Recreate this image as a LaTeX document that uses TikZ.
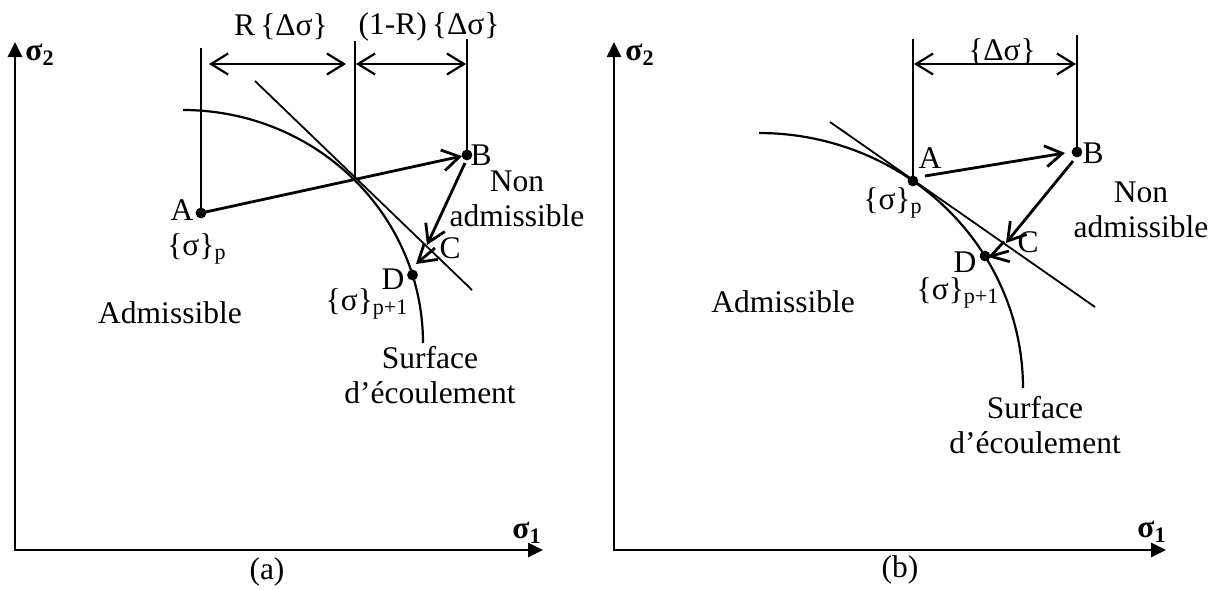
\documentclass[tikz,border=0pt]{standalone}
\usepackage{fontspec}
\setmainfont{Liberation Serif}
\usetikzlibrary{arrows.meta}
\begin{document}
\begin{tikzpicture}[x=0.5pt,y=-0.5pt,
  font=\fontsize{15.75}{17.5}\selectfont,
  every node/.style={inner sep=0pt, outer sep=0pt},
  axisline/.style={line width=1.3pt, {Triangle[length=7.5pt,width=7pt]}-{Triangle[length=7.5pt,width=7pt]}},
  mainarrow/.style={line width=1.4pt, -{Straight Barb[length=8.5pt,width=10.5pt]}},
  dimarrow/.style={line width=1.1pt, {Straight Barb[length=8.5pt,width=10.5pt]}-{Straight Barb[length=8.5pt,width=10.5pt]}},
  guide/.style={line width=0.9pt},
  surf/.style={line width=1.1pt},
  dotmark/.style={fill=black},
  twoline/.style={align=center, font=\fontsize{15.75}{17.5}\selectfont}]
\useasboundingbox (0,0) rectangle (1220,589);

% ---------------- panel (a) ----------------
\coordinate (O1) at (15,550);
\coordinate (Y1) at (15,42);
\coordinate (X1) at (543,550);
\coordinate (A1) at (201,213);
\coordinate (B1) at (467,155);
\coordinate (M1) at (355,178);
\coordinate (A1t) at (201,48);
\coordinate (M1t) at (355,41);
\coordinate (B1t) at (467,39);
\coordinate (dA1) at (209,64);
\coordinate (dM1l) at (346,64);
\coordinate (dM1r) at (356,64);
\coordinate (dB1) at (466,64);
\coordinate (T1a) at (255,81);
\coordinate (T1b) at (472,290);
\coordinate (C1) at (427,245);
\coordinate (D1) at (412.5,275);
\coordinate (B1s) at (465,163);
\coordinate (C1s) at (435,248);
\coordinate (D1e) at (416,264);

\draw[axisline] (Y1) -- (O1) -- (X1);
\draw[guide] (A1) -- (A1t);
\draw[guide] (M1) -- (M1t);
\draw[guide] (B1) -- (B1t);
\draw[dimarrow] (dA1) -- (dM1l);
\draw[dimarrow] (dM1r) -- (dB1);
\draw[surf] plot[domain=-90:0, samples=80, smooth] ({183+240*cos(\x)}, {343+233*sin(\x)});
\draw[guide] (T1a) -- (T1b);
\draw[mainarrow, shorten >=2.5pt] (A1) -- (B1);
\draw[mainarrow] (B1s) -- (C1);
\draw[mainarrow] (C1s) -- (D1e);
\fill[dotmark] (A1) circle (2.7pt);
\fill[dotmark] (B1) circle (2.7pt);
\fill[dotmark] (D1) circle (2.7pt);

\node (lblR1) at (281,27) {R\,\{Δσ\}};
\node (lblRR1) at (429,27) {(1-R)\,\{Δσ\}};
\node (s2a) at (40,55) {\textbf{σ\textsubscript{2}}};
\node (s1a) at (527,533) {\textbf{σ\textsubscript{1}}};
\node (lA1) at (182,210) {A};
\node (sp1) at (197,249) {\{σ\}\textsubscript{p}};
\node (lB1) at (481,155) {B};
\node[twoline] (na1) at (517,199) {Non\\admissible};
\node (lC1) at (450,248) {C};
\node (lD1) at (393,279) {D};
\node (sq1) at (367,304) {\{σ\}\textsubscript{p+1}};
\node (ad1) at (170,313) {Admissible};
\node[twoline] (sf1) at (430,375) {Surface\\d’écoulement};
\node (capa) at (267,572) {(a)};

% ---------------- panel (b) ----------------
\coordinate (O2) at (614,550);
\coordinate (Y2) at (614,42);
\coordinate (X2) at (1166,550);
\coordinate (A2) at (913,181);
\coordinate (B2) at (1077,152);
\coordinate (A2t) at (913,39);
\coordinate (B2t) at (1077,35);
\coordinate (dA2) at (914,64);
\coordinate (dB2) at (1076,64);
\coordinate (T2a) at (830,122);
\coordinate (T2b) at (1095,307);
\coordinate (C2) at (1006,243);
\coordinate (D2) at (985,256);
\coordinate (A2s) at (925,176);
\coordinate (B2e) at (1065,153);
\coordinate (B2s) at (1073,161);
\coordinate (C2s) at (1009,251);
\coordinate (D2e) at (988,257);

\draw[axisline] (Y2) -- (O2) -- (X2);
\draw[guide] (A2) -- (A2t);
\draw[guide] (B2) -- (B2t);
\draw[dimarrow] (dA2) -- (dB2);
\draw[surf] plot[domain=-90:0, samples=80, smooth] ({759+264*cos(\x)}, {388+255*sin(\x)});
\draw[guide] (T2a) -- (T2b);
\draw[mainarrow] (A2s) -- (B2e);
\draw[mainarrow] (B2s) -- (C2);
\draw[mainarrow] (C2s) -- (D2e);
\fill[dotmark] (A2) circle (2.7pt);
\fill[dotmark] (B2) circle (2.7pt);
\fill[dotmark] (D2) circle (2.7pt);

\node (lblD2) at (1002,52) {\{Δσ\}};
\node (s2b) at (640,55) {\textbf{σ\textsubscript{2}}};
\node (s1b) at (1152,532) {\textbf{σ\textsubscript{1}}};
\node (lA2) at (930,158) {A};
\node (sp2) at (893,203) {\{σ\}\textsubscript{p}};
\node (lB2) at (1093,153) {B};
\node[twoline] (na2) at (1141,210) {Non\\admissible};
\node (lC2) at (1028,242) {C};
\node (lD2) at (965,262) {D};
\node (sq2) at (958,293) {\{σ\}\textsubscript{p+1}};
\node (ad2) at (783,302) {Admissible};
\node[twoline] (sf2) at (1035,425) {Surface\\d’écoulement};
\node (capb) at (900,570) {(b)};
\end{tikzpicture}
\end{document}
